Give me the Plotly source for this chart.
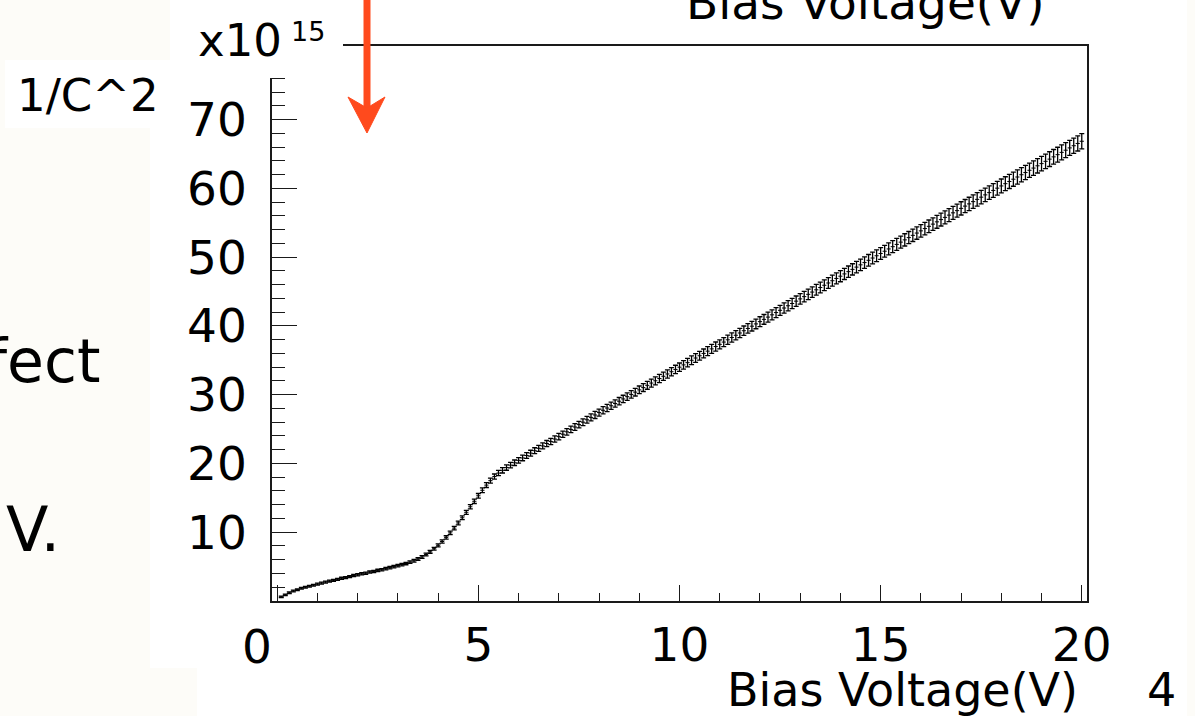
import plotly.graph_objects as go

# ---------------- data ----------------
voltage = [round(0.1 * k, 1) for k in range(1, 201)]  # 0.1 V steps, 0.1 .. 20.0

inv_c2 = [
    0.6, 0.9, 1.2, 1.45, 1.65, 1.85, 2.0, 2.15, 2.3, 2.45,
    2.6, 2.75, 2.9, 3.0, 3.15, 3.3, 3.4, 3.55, 3.7, 3.8,
    3.95, 4.05, 4.2, 4.3, 4.45, 4.55, 4.7, 4.85, 5.0, 5.15,
    5.3, 5.45, 5.65, 5.85, 6.1, 6.4, 6.75, 7.15, 7.6, 8.1,
    8.65, 9.25, 9.9, 10.6, 11.35, 12.1, 12.9, 13.7, 14.5, 15.3,
    16.1, 16.85, 17.5, 18.1, 18.6, 19.0, 19.4, 19.75, 20.1, 20.45,
    20.8, 21.15, 21.5, 21.85, 22.2, 22.55, 22.9, 23.2, 23.55, 23.9,
    24.25, 24.6, 24.95, 25.3, 25.65, 26.0, 26.35, 26.7, 27.05, 27.4,
    27.73, 28.06, 28.39, 28.72, 29.05, 29.38, 29.71, 30.04, 30.37, 30.7,
    31.03, 31.36, 31.69, 32.02, 32.35, 32.68, 33.01, 33.34, 33.67, 34.0,
    34.33, 34.66, 35.0, 35.33, 35.66, 36.0, 36.33, 36.66, 37.0, 37.32,
    37.65, 37.98, 38.31, 38.64, 38.97, 39.3, 39.63, 39.96, 40.29, 40.62,
    40.95, 41.28, 41.61, 41.94, 42.27, 42.6, 42.93, 43.26, 43.6, 43.93,
    44.26, 44.59, 44.92, 45.25, 45.58, 45.91, 46.24, 46.57, 46.9, 47.23,
    47.56, 47.89, 48.22, 48.55, 48.88, 49.21, 49.54, 49.87, 50.2, 50.53,
    50.86, 51.19, 51.52, 51.85, 52.18, 52.51, 52.84, 53.17, 53.5, 53.82,
    54.15, 54.48, 54.8, 55.13, 55.46, 55.78, 56.11, 56.44, 56.76, 57.09,
    57.42, 57.74, 58.07, 58.4, 58.72, 59.05, 59.38, 59.7, 60.03, 60.35,
    60.68, 61.0, 61.33, 61.65, 61.98, 62.3, 62.63, 62.95, 63.28, 63.6,
    63.93, 64.25, 64.58, 64.9, 65.23, 65.55, 65.88, 66.2, 66.53, 66.85,
]

inv_c2_err = [
    0.11, 0.11, 0.12, 0.12, 0.12, 0.13, 0.13, 0.13, 0.13, 0.14,
    0.14, 0.14, 0.14, 0.15, 0.15, 0.15, 0.15, 0.15, 0.16, 0.16,
    0.16, 0.16, 0.16, 0.16, 0.17, 0.17, 0.17, 0.17, 0.18, 0.18,
    0.18, 0.18, 0.18, 0.19, 0.19, 0.20, 0.20, 0.21, 0.21, 0.22,
    0.23, 0.24, 0.25, 0.26, 0.27, 0.28, 0.29, 0.31, 0.32, 0.33,
    0.34, 0.35, 0.36, 0.37, 0.38, 0.39, 0.39, 0.40, 0.40, 0.41,
    0.41, 0.42, 0.42, 0.43, 0.43, 0.44, 0.44, 0.45, 0.45, 0.46,
    0.46, 0.47, 0.47, 0.48, 0.48, 0.49, 0.50, 0.50, 0.51, 0.51,
    0.52, 0.52, 0.53, 0.53, 0.54, 0.54, 0.55, 0.55, 0.56, 0.56,
    0.57, 0.57, 0.58, 0.58, 0.59, 0.59, 0.60, 0.60, 0.61, 0.61,
    0.61, 0.62, 0.63, 0.63, 0.63, 0.64, 0.65, 0.65, 0.66, 0.66,
    0.66, 0.67, 0.67, 0.68, 0.68, 0.69, 0.69, 0.70, 0.70, 0.71,
    0.71, 0.72, 0.72, 0.73, 0.73, 0.74, 0.74, 0.75, 0.75, 0.76,
    0.76, 0.77, 0.77, 0.78, 0.78, 0.79, 0.79, 0.80, 0.80, 0.81,
    0.81, 0.82, 0.82, 0.83, 0.83, 0.84, 0.84, 0.85, 0.85, 0.86,
    0.86, 0.87, 0.87, 0.88, 0.88, 0.89, 0.89, 0.90, 0.90, 0.91,
    0.91, 0.92, 0.92, 0.93, 0.93, 0.94, 0.94, 0.95, 0.95, 0.96,
    0.96, 0.97, 0.97, 0.98, 0.98, 0.99, 0.99, 1.00, 1.00, 1.01,
    1.01, 1.02, 1.02, 1.03, 1.03, 1.04, 1.04, 1.05, 1.05, 1.06,
    1.06, 1.07, 1.07, 1.08, 1.08, 1.09, 1.09, 1.10, 1.10, 1.11,
]

x_tick_vals = [0, 5, 10, 15, 20]
x_tick_text = ["", "5", "10", "15", "20"]
y_tick_vals = [10, 20, 30, 40, 50, 60, 70]
y_tick_text = ["10", "20", "30", "40", "50", "60", "70"]

x_title = "Bias Voltage(V)"
y_title = "1/C^2"
y_exponent = "x10"
y_exponent_power = "15"

# ---------------- layout geometry ----------------
W, H = 1195, 716
L, R, T, B = 272, 1087, 46, 601
FONT = "DejaVu Sans"
OFFWHITE = "#fdfcf8"
RED = "#ff4a1d"


def px(xp):
    return (xp - L) / (R - L)


def py(yp):
    return (B - yp) / (B - T)


fig = go.Figure()
fig.add_trace(go.Scatter(
    x=voltage, y=inv_c2,
    mode="markers",
    marker=dict(symbol="line-ew", size=3, color="black",
                line=dict(width=1, color="black")),
    error_y=dict(type="data", array=inv_c2_err, visible=True,
                 color="black", thickness=1.3, width=2.5),
    showlegend=False,
    hoverinfo="x+y",
))

shapes = []
# white picture areas on the off-white slide
for x0, y0, x1, y1 in [(170, 0, 1187, 60), (150, 60, 1187, 668),
                       (5, 60, 150, 128), (197, 668, 1187, 716)]:
    shapes.append(dict(type="rect", xref="paper", yref="paper",
                       x0=px(x0), x1=px(x1), y0=py(y1), y1=py(y0),
                       fillcolor="white", line=dict(width=0), layer="below"))
# mask that hides the top-left corner of the frame
shapes.append(dict(type="rect", xref="paper", yref="paper",
                   x0=px(175), x1=px(343), y0=py(78), y1=py(-2),
                   fillcolor="white", line=dict(width=0), layer="above"))
# red arrow
shapes.append(dict(type="line", xref="paper", yref="paper",
                   x0=px(367), x1=px(367), y0=py(-5), y1=py(108),
                   line=dict(color=RED, width=7), layer="above"))
hx = [348, 367, 385, 367]
hy = [97, 108, 97, 133]
path = "M " + " L ".join(f"{px(a):.5f},{py(b):.5f}" for a, b in zip(hx, hy)) + " Z"
shapes.append(dict(type="path", xref="paper", yref="paper", path=path,
                   fillcolor=RED, line=dict(color=RED, width=1), layer="above"))

ann = []


def add_text(text, xp, yp, size, xanchor="center"):
    ann.append(dict(text=text, xref="paper", yref="paper", x=px(xp), y=py(yp),
                    xanchor=xanchor, yanchor="middle", showarrow=False,
                    font=dict(family=FONT, size=size, color="black")))


add_text(x_title, 1080, 690, 46, "right")
add_text(x_title, 1047, 3, 47, "right")
add_text("4", 1161, 690, 46)
add_text(y_title, 88, 96, 45)
add_text(y_exponent, 196, 40, 45, "left")
add_text(y_exponent_power, 289, 31, 27, "left")
add_text("0", 257, 646, 47)
add_text("fect", 103, 361, 60, "right")
add_text("V.", 4, 529, 62, "left")

axis_common = dict(showgrid=False, zeroline=False, showline=True,
                   linecolor="#1a1a1a", linewidth=1.5, mirror=True,
                   ticks="inside", tickcolor="#1a1a1a", tickwidth=1.2,
                   tickfont=dict(family=FONT, size=47, color="black"))

fig.update_layout(
    width=W, height=H,
    margin=dict(l=L, r=W - R, t=T, b=H - B),
    paper_bgcolor=OFFWHITE, plot_bgcolor="white",
    xaxis=dict(range=[-0.13, 20.13], tickmode="array",
               tickvals=x_tick_vals, ticktext=x_tick_text, ticklen=16,
               ticklabelstandoff=2,
               minor=dict(ticks="inside", ticklen=8, dtick=1, tick0=0,
                          tickcolor="#1a1a1a", tickwidth=1.2, showgrid=False),
               **axis_common),
    yaxis=dict(range=[0, 80.7], tickmode="array",
               tickvals=y_tick_vals, ticktext=y_tick_text, ticklen=25,
               ticklabelstandoff=14,
               minor=dict(ticks="inside", ticklen=13, dtick=2, tick0=0,
                          tickcolor="#1a1a1a", tickwidth=1.2, showgrid=False),
               **axis_common),
    shapes=shapes,
    annotations=ann,
)

fig.write_html("out.html")
